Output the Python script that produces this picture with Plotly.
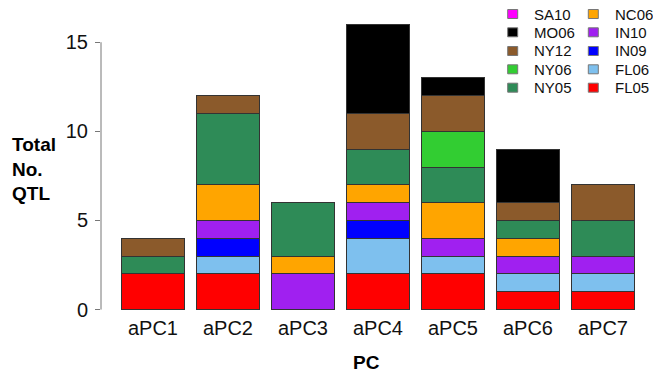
import plotly.graph_objects as go

# Principal components on the x axis
pcs = ["aPC1", "aPC2", "aPC3", "aPC4", "aPC5", "aPC6", "aPC7"]

# Number of QTL per environment for each PC
fl05 = [2, 2, 0, 2, 2, 1, 1]
fl06 = [0, 1, 0, 2, 1, 1, 1]
in09 = [0, 1, 0, 1, 0, 0, 0]
in10 = [0, 1, 2, 1, 1, 1, 1]
nc06 = [0, 2, 1, 1, 2, 1, 0]
ny05 = [1, 4, 3, 2, 2, 1, 2]
ny06 = [0, 0, 0, 0, 2, 0, 0]
ny12 = [1, 1, 0, 2, 2, 1, 2]
mo06 = [0, 0, 0, 5, 1, 3, 0]
sa10 = [0, 0, 0, 0, 0, 0, 0]

y_ticks = [0, 5, 10, 15]

# Stacking order, bottom to top: (name, values, colour)
series = [
    ("FL05", fl05, "#FF0000"),
    ("FL06", fl06, "#7EC0EE"),
    ("IN09", in09, "#0000FF"),
    ("IN10", in10, "#A020F0"),
    ("NC06", nc06, "#FFA500"),
    ("NY05", ny05, "#2E8B57"),
    ("NY06", ny06, "#32CD32"),
    ("NY12", ny12, "#8B5A2B"),
    ("MO06", mo06, "#000000"),
    ("SA10", sa10, "#FF00FF"),
]

# Legend layout: two columns, read top to bottom
legend_cols = [
    ["SA10", "MO06", "NY12", "NY06", "NY05"],
    ["NC06", "IN10", "IN09", "FL06", "FL05"],
]

W, H = 653, 373
ML, MR, MT, MB = 101, 0, 13, 52
PW, PH = W - ML - MR, H - MT - MB
Y_RANGE = [-0.64, 16.64]
FONT = "Liberation Sans, Arial, Helvetica, sans-serif"


def px(x, y):
    """Convert page pixel coordinates to paper coordinates."""
    return (x - ML) / PW, (H - MB - y) / PH


def y_paper(v):
    """Convert a y-axis value to paper coordinates."""
    return (v - Y_RANGE[0]) / (Y_RANGE[1] - Y_RANGE[0])


fig = go.Figure()
for name, vals, col in series:
    fig.add_trace(go.Bar(
        x=pcs, y=vals, name=name,
        marker=dict(color=col, line=dict(color="#333333", width=1)),
        showlegend=False,
    ))

shapes = []
annotations = []

# y axis line spanning the labelled ticks only (paper refs so it is not clipped)
shapes.append(dict(type="line", xref="paper", yref="paper", x0=0, x1=0,
                   y0=y_paper(y_ticks[0]), y1=y_paper(y_ticks[-1]), layer="above",
                   line=dict(color="#777777", width=1)))

# Legend drawn as swatches and labels
colour_of = {n: c for n, _, c in series}
row_y = [14, 32.3, 51, 69.3, 87.7]
col_sq_x = [512.7, 593.3]
col_txt_x = [531.5, 612.5]
for ci, names in enumerate(legend_cols):
    for ri, name in enumerate(names):
        cx, cy = col_sq_x[ci], row_y[ri]
        x0, y0 = px(cx - 5, cy + 4.5)
        x1, y1 = px(cx + 5, cy - 4.5)
        shapes.append(dict(type="rect", xref="paper", yref="paper",
                           x0=x0, x1=x1, y0=y0, y1=y1,
                           fillcolor=colour_of[name],
                           line=dict(color="#777777", width=1)))
        tx, ty = px(col_txt_x[ci], cy)
        annotations.append(dict(text=name, xref="paper", yref="paper",
                                x=tx, y=ty, xanchor="left", yanchor="middle",
                                showarrow=False,
                                font=dict(family=FONT, size=15, color="#111111")))

# Axis titles
tx, ty = px(10, 169)
annotations.append(dict(text="<b>Total<br>No.<br>QTL</b>", xref="paper", yref="paper",
                        x=tx, y=ty, xanchor="left", yanchor="middle", align="left",
                        showarrow=False,
                        font=dict(family=FONT, size=19, color="#000000")))
tx, ty = px(366, 363)
annotations.append(dict(text="<b>PC</b>", xref="paper", yref="paper",
                        x=tx, y=ty, xanchor="center", yanchor="middle",
                        showarrow=False,
                        font=dict(family=FONT, size=19, color="#000000")))

fig.update_layout(
    width=W, height=H,
    margin=dict(l=ML, r=MR, t=MT, b=MB, pad=0),
    barmode="stack",
    bargap=0.2 / 1.2,
    plot_bgcolor="white",
    paper_bgcolor="white",
    shapes=shapes,
    annotations=annotations,
    font=dict(family=FONT, color="#111111"),
    xaxis=dict(
        range=[-0.693, 6.667],
        showline=False, showgrid=False, zeroline=False,
        ticks="", tickfont=dict(family=FONT, size=20, color="#111111"),
        ticklabelstandoff=-7,
        fixedrange=True,
    ),
    yaxis=dict(
        range=Y_RANGE,
        tickvals=y_ticks,
        showline=False, showgrid=False, zeroline=False,
        ticks="outside", ticklen=5, tickcolor="#777777", tickwidth=1,
        tickfont=dict(family=FONT, size=20, color="#111111"),
        ticklabelstandoff=3,
        fixedrange=True,
    ),
)

fig.write_html("out.html")
